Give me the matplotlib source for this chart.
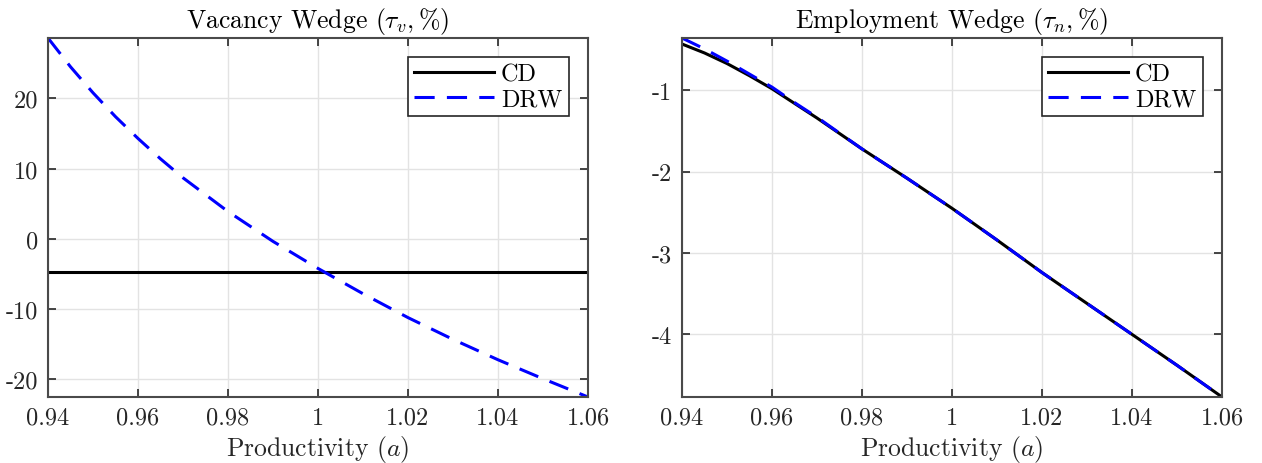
import matplotlib
matplotlib.use("Agg")
import matplotlib.pyplot as plt
import numpy as np

plt.rcParams['font.family'] = ['cmr10', 'DejaVu Serif']
plt.rcParams['mathtext.fontset'] = 'cm'
plt.rcParams['axes.unicode_minus'] = False

# Data
a_vals = [0.94, 0.945, 0.95, 0.955, 0.96, 0.965, 0.97, 0.98, 0.99, 1.00, 1.01, 1.02, 1.03, 1.04, 1.05, 1.06]
tau_v_cd = [-4.65] * 16
tau_v_drw = [28.6, 24.5, 20.8, 17.4, 14.3, 11.4, 8.7, 3.9, -0.35, -4.2, -7.8, -11.2, -14.3, -17.2, -19.9, -22.5]
tau_n_cd = [-0.43, -0.54, -0.67, -0.82, -0.98, -1.16, -1.34, -1.72, -2.08, -2.45, -2.84, -3.24, -3.62, -4.00, -4.38, -4.77]
tau_n_drw = [-0.356, -0.49, -0.64, -0.80, -0.96, -1.15, -1.33, -1.72, -2.08, -2.45, -2.84, -3.24, -3.62, -4.00, -4.38, -4.77]

xticks = [0.94, 0.96, 0.98, 1.00, 1.02, 1.04, 1.06]
xticklabels = ['0.94', '0.96', '0.98', '1', '1.02', '1.04', '1.06']
yticks_v = [-20, -10, 0, 10, 20]
yticklabels_v = ['-20', '-10', '0', '10', '20']
yticks_n = [-4, -3, -2, -1]
yticklabels_n = ['-4', '-3', '-2', '-1']

fig = plt.figure(figsize=(12.62, 4.64), dpi=100)
ax1 = fig.add_axes([48/1262, 1-398/464, 540/1262, 359/464])
ax2 = fig.add_axes([682/1262, 1-398/464, 540/1262, 359/464])

txt_col = '#262626'
fs_tick = 17.5
fs_lab = 18.5

def style(ax):
    for s in ax.spines.values():
        s.set_color('#4a4a4a')
        s.set_linewidth(1.5)
    ax.tick_params(direction='in', top=True, right=True, length=6, width=1.2,
                   color='#262626', labelsize=fs_tick, labelcolor=txt_col, pad=7)
    ax.grid(True, color='#e3e3e3', linewidth=1.0)
    ax.set_axisbelow(True)
    ax.set_xticks(xticks)
    ax.set_xticklabels(xticklabels)
    ax.set_xlim(0.94, 1.06)
    ax.set_xlabel('Productivity ($a$)', fontsize=fs_lab, color=txt_col, labelpad=3)

dash = (6.6, 4.0)
lw = 2.2

ax1.plot(a_vals, tau_v_cd, color='black', lw=lw, label='CD')
ax1.plot(a_vals, tau_v_drw, color='blue', lw=lw, dashes=dash, label='DRW')
style(ax1)
ax1.set_yticks(yticks_v)
ax1.set_yticklabels(yticklabels_v)
ax1.set_ylim(min(tau_v_drw), max(tau_v_drw))
ax1.set_title(r'Vacancy Wedge ($\tau_v, \%$)', fontsize=fs_lab, pad=8)

ax2.plot(a_vals, tau_n_cd, color='black', lw=lw, label='CD')
ax2.plot(a_vals, tau_n_drw, color='blue', lw=lw, dashes=dash, label='DRW')
style(ax2)
ax2.set_yticks(yticks_n)
ax2.set_yticklabels(yticklabels_n)
ax2.set_ylim(min(tau_n_cd), max(tau_n_drw))
ax2.set_title(r'Employment Wedge ($\tau_n, \%$)', fontsize=fs_lab, pad=8)

for ax in (ax1, ax2):
    leg = ax.legend(loc='upper right', fontsize=fs_tick, fancybox=False, framealpha=1,
                    edgecolor='#262626', handlelength=3.3, borderaxespad=0.8,
                    handletextpad=0.3, labelspacing=0.1, borderpad=0.25)
    leg.get_frame().set_linewidth(1.2)

fig.savefig('out.png', dpi=100)
